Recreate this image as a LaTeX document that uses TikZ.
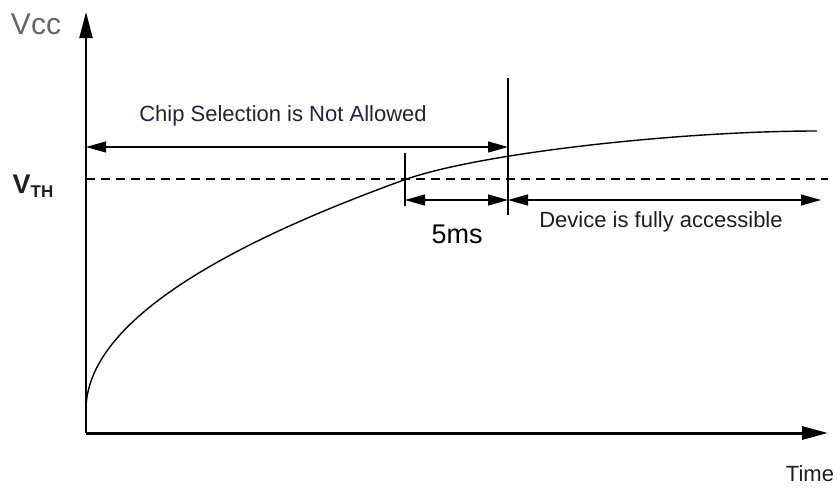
\documentclass[tikz,border=0pt]{standalone}
\usepackage{fontspec}
\setmainfont{Liberation Sans}
\usetikzlibrary{arrows.meta}
\definecolor{navytext}{HTML}{22223A}
\begin{document}
\begin{tikzpicture}[x=1pt,y=-1pt,
  lbl/.style={inner sep=0pt,text=black!88},
  thin/.style={line width=1.2pt,draw=black},
  dimarrow/.style={thin,{Triangle[length=20pt,width=11pt]}-{Triangle[length=20pt,width=11pt]}},
  axisarrow/.style={draw=black,-{Triangle[length=26pt,width=13pt]}},
  dashedline/.style={line width=1.1pt,dash pattern=on 9pt off 6pt},
  curve/.style={line width=1.4pt}]
\useasboundingbox[fill=white] (0,0) rectangle (837,488);
% axes
\coordinate (O) at (86,433);
\coordinate (ytop) at (86,12);
\coordinate (xend) at (828,433);
\draw[axisarrow,line width=2pt] (O) -- (ytop);
\draw[axisarrow,line width=3pt] (O) -- (xend);
% threshold
\coordinate (th0) at (86,179);
\coordinate (th1) at (828,179);
\draw[dashedline] (th0) -- (th1);
% vertical markers
\coordinate (va) at (405,153);
\coordinate (vb) at (405,206);
\coordinate (ma) at (508,78);
\coordinate (mb) at (508,215);
\draw[thin] (va) -- (vb);
\draw[thin] (ma) -- (mb);
% dimension arrows
\coordinate (c0) at (86,147);
\coordinate (c1) at (508,147);
\draw[dimarrow] (c0) -- (c1);
\coordinate (d0) at (405,200);
\coordinate (d1) at (508,200);
\coordinate (d2) at (821,200);
\draw[dimarrow] (d0) -- (d1);
\draw[dimarrow] (d1) -- (d2);
% curve
\coordinate (cend) at (817,131);
\draw[curve] plot[domain=0:17.86,samples=90] ({86+\x*\x},{410-12.9*\x})
  .. controls (480,153) and (680,131) .. (cend);
% labels
\node[lbl,text=black!60,font=\fontsize{30}{32}\selectfont] (vcc) at (36,24) {Vcc};
\node[lbl,font=\fontsize{27}{30}\selectfont\bfseries] (vth) at (33,186) {V\raisebox{-0.15em}{\fontsize{17}{19}\selectfont TH}};
\node[lbl,text=navytext,font=\fontsize{22}{24}\selectfont] (chip) at (283,116) {Chip Selection is Not Allowed};
\node[lbl,font=\fontsize{22}{24}\selectfont] (dev) at (661,222) {Device is fully accessible};
\node[lbl,text=black,font=\fontsize{27}{30}\selectfont] (ms) at (457,234) {5ms};
\node[lbl,font=\fontsize{22}{24}\selectfont] (time) at (810,474) {Time};
\end{tikzpicture}
\end{document}
